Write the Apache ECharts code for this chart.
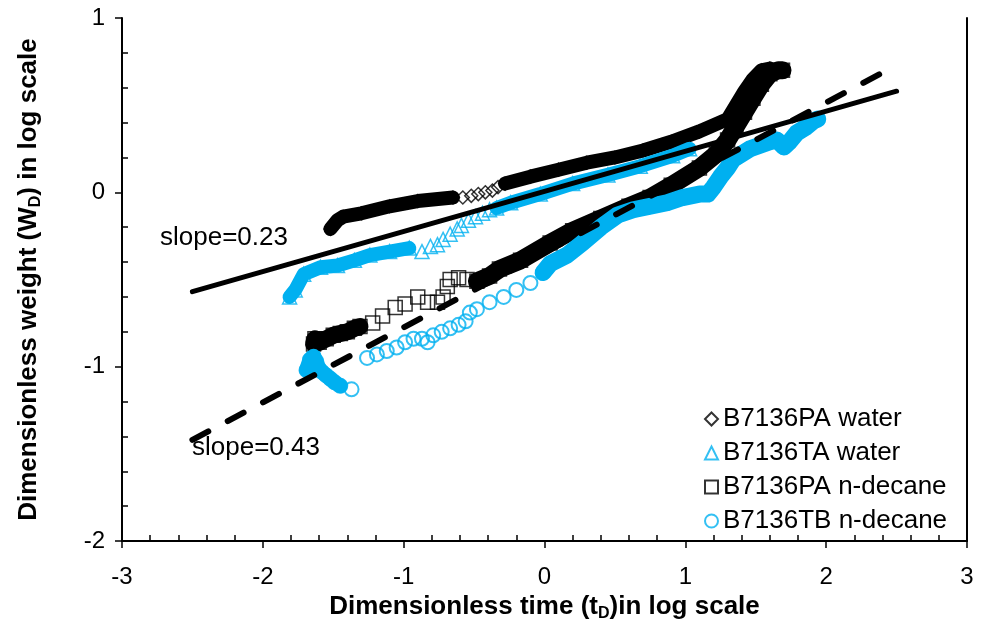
<!DOCTYPE html>
<html><head><meta charset="utf-8">
<script src="https://cdn.jsdelivr.net/npm/echarts@6/dist/echarts.min.js"></script>
<style>html,body{margin:0;padding:0;background:#fff}#c{width:981px;height:619px}</style>
</head><body><div id="c"></div>
<script>
// ---- data (log10 t_D, log10 W_D) ----
const seriesNames = ['B7136PA water', 'B7136TA water', 'B7136PA n-decane', 'B7136TB n-decane'];

// B7136PA water (diamonds)
const paWaterDense1 = [[-1.52,-0.21],[-1.47,-0.16],[-1.43,-0.14],[-1.30,-0.12],[-1.10,-0.08],[-0.90,-0.05],[-0.65,-0.03]];
const paWaterSparse = [[-0.58,-0.03],[-0.52,-0.02],[-0.47,-0.01],[-0.42,0.00],[-0.37,0.01],[-0.33,0.03]];
const paWaterDense2 = [[-0.28,0.05],[-0.10,0.09],[0.10,0.13],[0.30,0.17],[0.50,0.20],[0.70,0.24],[0.90,0.29],[1.10,0.35],[1.30,0.42],[1.36,0.50],[1.42,0.58],[1.48,0.65],[1.54,0.70],[1.60,0.71]];

// B7136TA water (triangles)
const taWaterDense1 = [[-1.81,-0.60],[-1.77,-0.56],[-1.71,-0.47],[-1.59,-0.43],[-1.47,-0.42],[-1.35,-0.39],[-1.24,-0.36],[-1.10,-0.34],[-0.96,-0.32]];
const taWaterSparse = [[-0.87,-0.34],[-0.81,-0.31],[-0.76,-0.30],[-0.72,-0.27],[-0.67,-0.24],[-0.62,-0.21],[-0.59,-0.19],[-0.54,-0.16],[-0.49,-0.14],[-0.44,-0.12],[-0.39,-0.10]];
const taWaterDense2 = [[-0.34,-0.09],[-0.24,-0.06],[-0.03,-0.01],[0.20,0.05],[0.45,0.10],[0.68,0.15],[0.91,0.21],[1.03,0.25]];

// B7136PA n-decane (squares)
const paDecaneDense1 = [[-1.64,-0.87],[-1.63,-0.84],[-1.60,-0.86],[-1.55,-0.84],[-1.50,-0.82],[-1.45,-0.81],[-1.40,-0.80],[-1.35,-0.78],[-1.31,-0.77]];
const paDecaneSparse = [[-1.22,-0.75],[-1.15,-0.71],[-1.06,-0.66],[-0.99,-0.64],[-0.90,-0.60],[-0.83,-0.63],[-0.76,-0.63],[-0.72,-0.60],[-0.69,-0.54],[-0.67,-0.50],[-0.61,-0.49],[-0.55,-0.50]];
const paDecaneDense2 = [[-0.48,-0.51],[-0.39,-0.48],[-0.32,-0.44],[-0.17,-0.39],[0.04,-0.29],[0.20,-0.22],[0.40,-0.15],[0.60,-0.08],[0.75,-0.03],[0.90,0.04],[1.10,0.14],[1.22,0.22],[1.30,0.30],[1.36,0.38],[1.42,0.46],[1.48,0.54],[1.54,0.62],[1.60,0.68],[1.66,0.70],[1.69,0.70]];

// B7136TB n-decane (circles)
const tbDecaneDense1 = [[-1.69,-1.02],[-1.665,-0.96],[-1.64,-0.94],[-1.62,-0.97],[-1.61,-1.00],[-1.58,-1.03],[-1.55,-1.05],[-1.52,-1.07],[-1.49,-1.09],[-1.45,-1.11]];
const tbDecaneSparse = [[-1.37,-1.13],[-1.26,-0.95],[-1.19,-0.93],[-1.12,-0.91],[-1.05,-0.89],[-0.99,-0.86],[-0.93,-0.84],[-0.87,-0.84],[-0.83,-0.86],[-0.79,-0.82],[-0.73,-0.80],[-0.67,-0.78],[-0.61,-0.76],[-0.56,-0.74],[-0.53,-0.69],[-0.48,-0.67],[-0.39,-0.63],[-0.29,-0.60],[-0.20,-0.56],[-0.10,-0.52]];
const tbDecaneDense2 = [[-0.01,-0.46],[0.04,-0.41],[0.16,-0.36],[0.27,-0.29],[0.40,-0.20],[0.52,-0.13],[0.63,-0.10],[0.75,-0.08],[0.87,-0.06],[0.98,-0.03],[1.10,-0.01],[1.16,-0.01],[1.20,0.03],[1.25,0.09],[1.30,0.14],[1.34,0.19],[1.40,0.22],[1.46,0.25],[1.53,0.27],[1.60,0.29],[1.65,0.30],[1.70,0.26],[1.74,0.29],[1.79,0.34],[1.85,0.37],[1.91,0.41],[1.94,0.42]];

// trend lines
const trendSolid = [[-2.5,-0.57],[2.5,0.58]];
const trendDashed = [[-2.5,-1.42],[2.4,0.687]];
const trendLabels = ['slope=0.23', 'slope=0.43'];

const xTickLabels = ['-3','-2','-1','0','1','2','3'];
const yTickLabels = ['-2','-1','0','1'];

// ---- chart ----
const BLUE = '#00B0F0';
const FONT = 'Liberation Sans, Arial, sans-serif';
const chart = echarts.init(document.getElementById('c'), null, {renderer: 'canvas'});

function band(data, color, width) {
  return {type: 'line', data: data, symbol: 'none', showSymbol: false, silent: true,
    lineStyle: {color: color, width: width, cap: 'round', join: 'round'},
    legendHoverLink: false, animation: false, tooltip: {show: false}};
}
function pts(name, sym, size, color, bw, arrs) {
  return {type: 'scatter', name: name, symbol: sym, symbolSize: size,
    itemStyle: {color: 'rgba(255,255,255,0)', borderColor: color, borderWidth: bw},
    data: [].concat(...arrs), animation: false};
}

const series = [
  band(paWaterDense1, '#000', 14), band(paWaterDense2, '#000', 14),
  pts(seriesNames[0], 'diamond', 13, '#000', 1.5, [paWaterDense1, paWaterSparse, paWaterDense2]),
  band(taWaterDense1, BLUE, 14), band(taWaterDense2, BLUE, 14),
  pts(seriesNames[1], 'triangle', 14, BLUE, 1.5, [taWaterDense1, taWaterSparse, taWaterDense2]),
  band(paDecaneDense1, '#000', 17), band(paDecaneDense2, '#000', 18),
  pts(seriesNames[2], 'rect', 14, '#000', 1.5, [paDecaneDense1, paDecaneSparse, paDecaneDense2]),
  band(tbDecaneDense1, BLUE, 15), band(tbDecaneDense2, BLUE, 17),
  pts(seriesNames[3], 'circle', 14, BLUE, 2, [tbDecaneDense1, tbDecaneSparse, tbDecaneDense2]),
  {type: 'line', data: trendSolid, symbol: 'none', silent: true, z: 5,
    lineStyle: {color: '#000', width: 5, cap: 'round'}},
  {type: 'line', data: trendDashed, symbol: 'none', silent: true, z: 5,
    lineStyle: {color: '#000', width: 6, type: [18, 22], cap: 'round'}}
];

const titleStyle = {fontSize: 26, fontWeight: 'bold', color: '#000', fontFamily: FONT,
  rich: {sub: {fontSize: 16, fontWeight: 'bold', color: '#000', fontFamily: FONT, padding: [14, 0, 0, 0]}}};

chart.setOption({
  animation: false,
  grid: {left: 122, right: 14, top: 18, bottom: 78, containLabel: false, outerBoundsMode: 'none'},
  xAxis: [{
    type: 'value', min: -3, max: 3, interval: 1,
    axisLine: {onZero: false, lineStyle: {color: '#000', width: 2}},
    axisTick: {show: true, length: 7, lineStyle: {color: '#000', width: 1.5}},
    minorTick: {show: true, splitNumber: 5, length: -6, lineStyle: {color: '#000', width: 1.5}},
    splitLine: {show: false},
    axisLabel: {fontSize: 24, color: '#000', fontFamily: FONT, margin: 24,
      formatter: v => xTickLabels[Math.round(v) + 3]},
    name: 'Dimensionless time (t{sub|D})in log scale', nameLocation: 'middle', nameGap: 46,
    nameTextStyle: titleStyle
  }],
  yAxis: [{
    type: 'value', min: -2, max: 1, interval: 1,
    axisLine: {onZero: false, lineStyle: {color: '#000', width: 2}},
    axisTick: {show: true, length: 7, lineStyle: {color: '#000', width: 1.5}},
    minorTick: {show: true, splitNumber: 5, length: -6, lineStyle: {color: '#000', width: 1.5}},
    splitLine: {show: false},
    axisLabel: {fontSize: 24, color: '#000', fontFamily: FONT, margin: 17,
      formatter: v => yTickLabels[Math.round(v) + 2]},
    name: 'Dimensionless weight (W{sub|D}) in log scale', nameLocation: 'middle', nameGap: 78,
    nameTextStyle: titleStyle
  }, {
    type: 'value', min: -2, max: 1, position: 'right',
    axisLine: {show: true, onZero: false, lineStyle: {color: '#000', width: 2}},
    axisTick: {show: false}, axisLabel: {show: false}, splitLine: {show: false}
  }],
  legend: {
    data: seriesNames, orient: 'vertical', left: 699, top: 401,
    itemWidth: 13, itemHeight: 13, itemGap: 8,
    textStyle: {fontSize: 26, color: '#000', fontFamily: FONT}
  },
  graphic: [
    {type: 'text', left: 160, top: 225, style: {text: trendLabels[0], fontSize: 26, fill: '#000', fontFamily: FONT}},
    {type: 'text', left: 192, top: 435, style: {text: trendLabels[1], fontSize: 26, fill: '#000', fontFamily: FONT}}
  ],
  series: series
});
</script></body></html>
